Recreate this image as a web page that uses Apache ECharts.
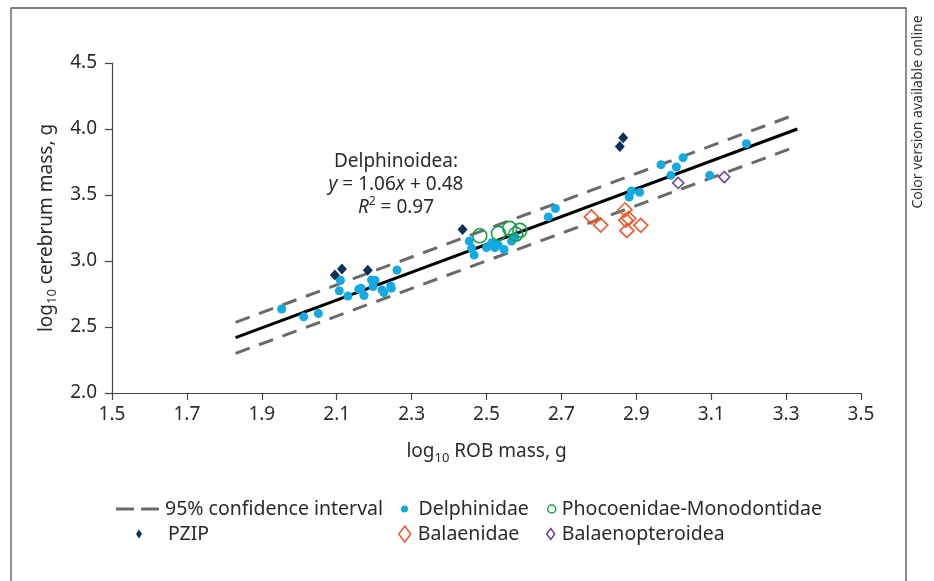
<!DOCTYPE html>
<html>
<head>
<meta charset="utf-8">
<script src="https://cdn.jsdelivr.net/npm/echarts@6/dist/echarts.min.js"></script>
<style>html,body{margin:0;padding:0;background:#fff;}#c{width:934px;height:581px;}</style>
</head>
<body>
<div id="c"></div>
<script>
// ---- data ----
var xTicks = [1.5, 1.7, 1.9, 2.1, 2.3, 2.5, 2.7, 2.9, 3.1, 3.3, 3.5];
var yTicks = [2.0, 2.5, 3.0, 3.5, 4.0, 4.5];

var delphinidae = [
  [1.953, 2.636], [2.012, 2.577], [2.051, 2.602], [2.110, 2.854], [2.107, 2.774],
  [2.130, 2.735], [2.159, 2.786], [2.165, 2.794], [2.173, 2.738], [2.193, 2.857],
  [2.202, 2.854], [2.197, 2.806], [2.221, 2.781], [2.226, 2.761], [2.244, 2.811],
  [2.246, 2.794], [2.261, 2.932],
  [2.454, 3.151], [2.460, 3.096], [2.467, 3.045], [2.500, 3.101], [2.514, 3.138],
  [2.522, 3.101], [2.531, 3.121], [2.547, 3.088], [2.567, 3.151], [2.576, 3.184],
  [2.665, 3.334], [2.684, 3.398],
  [2.887, 3.531], [2.881, 3.485], [2.909, 3.521], [2.966, 3.730], [2.992, 3.649],
  [3.007, 3.712], [3.025, 3.783], [3.096, 3.649], [3.194, 3.888]
];
var pzip = [[2.095, 2.894], [2.114, 2.940], [2.183, 2.930], [2.436, 3.239], [2.856, 3.868], [2.865, 3.934]];
var phocoenidae = [[2.482, 3.191], [2.532, 3.209], [2.562, 3.247], [2.578, 3.203], [2.589, 3.232]];
var balaenidae = [[2.780, 3.334], [2.805, 3.272], [2.870, 3.388], [2.872, 3.309], [2.880, 3.322], [2.875, 3.230], [2.912, 3.270]];
var balaenopteroidea = [[3.012, 3.591], [3.135, 3.636]];

var fitX = [1.83, 3.33];
var fitY = [2.42, 4.00];
var ciUpperY = [2.535, 4.115];
var ciLowerY = [2.30, 3.87];

// ---- build ----
function pairs(xs, ys) { return xs.map(function (x, i) { return [x, ys[i]]; }); }
var FONT = 'Noto Sans';
var TXT = '#2b2b2b';

var chart = echarts.init(document.getElementById('c'), null, {renderer: 'canvas'});

function legendBox(name, left, top, w, h, icon, extra) {
  var o = {
    left: left, top: top, padding: 0, orient: 'horizontal',
    itemWidth: w, itemHeight: h, symbolKeepAspect: true,
    selectedMode: false,
    textStyle: {fontFamily: FONT, fontSize: 19.5, color: TXT},
    data: [{name: name, icon: icon}]
  };
  if (extra) for (var k in extra) o[k] = extra[k];
  return o;
}

var dashColor = '#6a6a6a';
var row1 = 499, row2 = 524;
var option = {
  animation: false,
  backgroundColor: '#fff',
  grid: {left: 112, right: 73, top: 63, bottom: 188, containLabel: false},
  xAxis: {
    type: 'value', min: xTicks[0], max: xTicks[xTicks.length - 1], interval: 0.2,
    splitLine: {show: false},
    axisLine: {show: true, onZero: false, lineStyle: {color: '#444', width: 1.2}},
    axisTick: {show: true, inside: false, length: 7, lineStyle: {color: '#444', width: 1.2}},
    axisLabel: {margin: 12, fontFamily: FONT, fontSize: 19, color: TXT,
      formatter: function (v) { return v.toFixed(1); }},
    name: '{a|log}{s|10}{a| ROB mass, g}',
    nameLocation: 'middle', nameGap: 46,
    nameTextStyle: {
      rich: {
        a: {fontFamily: FONT, fontSize: 19, color: TXT, lineHeight: 26, verticalAlign: 'middle'},
        s: {fontFamily: FONT, fontSize: 13, color: TXT, lineHeight: 16, verticalAlign: 'bottom'}
      }
    }
  },
  yAxis: {
    type: 'value', min: yTicks[0], max: yTicks[yTicks.length - 1], interval: 0.5,
    splitLine: {show: false},
    axisLine: {show: true, onZero: false, lineStyle: {color: '#444', width: 1.2}},
    axisTick: {show: true, inside: false, length: 7, lineStyle: {color: '#444', width: 1.2}},
    axisLabel: {margin: 15, fontFamily: FONT, fontSize: 19, color: TXT,
      formatter: function (v) { return v.toFixed(1); }},
    name: '{a|log}{s|10}{a| cerebrum mass, g}',
    nameLocation: 'middle', nameGap: 52, nameRotate: 90,
    nameTextStyle: {
      rich: {
        a: {fontFamily: FONT, fontSize: 19, color: TXT, lineHeight: 26, verticalAlign: 'middle'},
        s: {fontFamily: FONT, fontSize: 13, color: TXT, lineHeight: 16, verticalAlign: 'bottom'}
      }
    }
  },
  legend: [
    legendBox('95% confidence interval', 116, row1, 45, 3, 'path://M0,0H18V3H0Z M25,0H43V3H25Z'),
    legendBox('Delphinidae', 401, row1, 18, 7, 'circle'),
    legendBox('Phocoenidae-Monodontidae', 547, row1, 10, 8, 'circle',
      {itemStyle: {borderWidth: 1.5}}),
    legendBox('PZIP', 136, row2, 48, 9, 'path://M3,0L6,4.5L3,9L0,4.5Z'),
    legendBox('Balaenidae', 398, row2, 16, 16, 'path://M6,0L12,8L6,16L0,8Z',
      {itemStyle: {borderWidth: 1.5}}),
    legendBox('Balaenopteroidea', 546, row2, 12, 11, 'path://M4,0L8,5.5L4,11L0,5.5Z',
      {itemStyle: {borderWidth: 1.5}})
  ],
  series: [
    {
      name: '95% confidence interval', type: 'line', data: pairs(fitX, ciUpperY),
      symbol: 'none', silent: true, z: 1,
      itemStyle: {color: dashColor},
      lineStyle: {color: dashColor, width: 3, type: [15, 10]}
    },
    {
      name: '95% confidence interval', type: 'line', data: pairs(fitX, ciLowerY),
      symbol: 'none', silent: true, z: 1,
      itemStyle: {color: dashColor},
      lineStyle: {color: dashColor, width: 3, type: [15, 10]}
    },
    {
      name: 'fit', type: 'line', data: pairs(fitX, fitY),
      symbol: 'none', silent: true, z: 2,
      lineStyle: {color: '#000', width: 3}
    },
    {
      name: 'Delphinidae', type: 'scatter', data: delphinidae, z: 3,
      symbol: 'circle', symbolSize: 9,
      itemStyle: {color: '#14a9e1', opacity: 1}
    },
    {
      name: 'PZIP', type: 'scatter', data: pzip, z: 3,
      symbol: 'diamond', symbolSize: [10, 11],
      itemStyle: {color: '#0d2f5c', opacity: 1}
    },
    {
      name: 'Phocoenidae-Monodontidae', type: 'scatter', data: phocoenidae, z: 4,
      symbol: 'circle', symbolSize: 14,
      itemStyle: {color: 'rgba(0,0,0,0)', borderColor: '#1b9e4b', borderWidth: 1.6, opacity: 1}
    },
    {
      name: 'Balaenidae', type: 'scatter', data: balaenidae, z: 4,
      symbol: 'diamond', symbolSize: [14, 14],
      itemStyle: {color: 'rgba(0,0,0,0)', borderColor: '#ee5a2b', borderWidth: 1.6, opacity: 1}
    },
    {
      name: 'Balaenopteroidea', type: 'scatter', data: balaenopteroidea, z: 4,
      symbol: 'diamond', symbolSize: [11, 11],
      itemStyle: {color: 'rgba(0,0,0,0)', borderColor: '#6d3f9c', borderWidth: 1.6, opacity: 1}
    }
  ],
  graphic: [
    {
      type: 'rect', silent: true, z: 0,
      shape: {x: 11, y: 8, width: 895, height: 620},
      style: {fill: 'none', stroke: '#555', lineWidth: 1.3}
    },
    {
      type: 'text', silent: true, z: 10,
      x: 918, y: 112, rotation: Math.PI / 2,
      style: {
        text: 'Color version available online',
        fontFamily: FONT, fontSize: 14, fill: '#333',
        align: 'center', verticalAlign: 'middle'
      }
    },
    {
      type: 'text', silent: true, z: 10,
      x: 396, y: 150,
      style: {
        text: '{n|Delphinoidea:}\n{i|y}{n| = 1.06}{i|x}{n| + 0.48}\n{i|R}{p|2}{n| = 0.97}',
        align: 'center', verticalAlign: 'top',
        fontFamily: FONT, fontSize: 19, fill: TXT,
        rich: {
          n: {fontFamily: FONT, fontSize: 19, fill: TXT, lineHeight: 23, verticalAlign: 'middle'},
          i: {fontFamily: FONT, fontSize: 19, fill: TXT, fontStyle: 'italic', lineHeight: 23, verticalAlign: 'middle'},
          p: {fontFamily: FONT, fontSize: 12, fill: TXT, lineHeight: 12, verticalAlign: 'top'}
        }
      }
    }
  ]
};
chart.setOption(option);
</script>
</body>
</html>
